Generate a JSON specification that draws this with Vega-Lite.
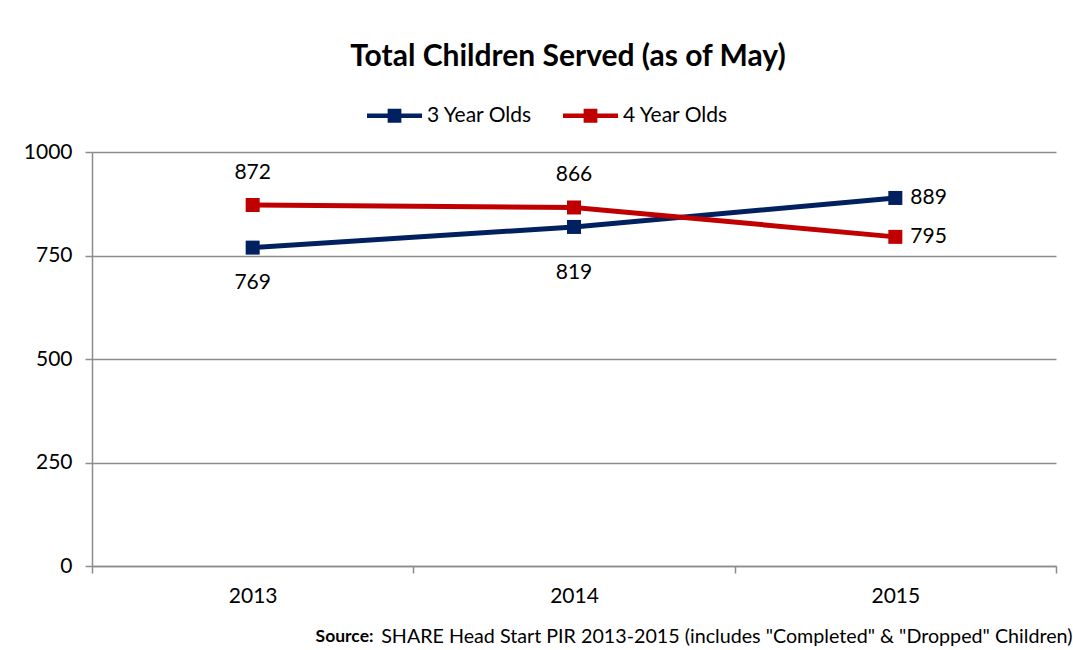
{
  "$schema": "https://vega.github.io/schema/vega-lite/v6.json",
  "width": 964,
  "height": 414,
  "autosize": {"type": "none"},
  "padding": {"left": 92, "top": 152, "right": 17, "bottom": 84},
  "background": "white",
  "config": {"view": {"stroke": null}, "font": "Lato"},
  "title": {
    "text": "Total Children Served (as of May)",
    "font": "Lato",
    "fontSize": 30,
    "fontWeight": "bold",
    "color": "black",
    "anchor": "middle",
    "offset": 16,
    "dx": -6
  },
  "data": {
    "values": [
      {"year": "2013", "series": "3 Year Olds", "value": 769},
      {"year": "2014", "series": "3 Year Olds", "value": 819},
      {"year": "2015", "series": "3 Year Olds", "value": 889},
      {"year": "2013", "series": "4 Year Olds", "value": 872},
      {"year": "2014", "series": "4 Year Olds", "value": 866},
      {"year": "2015", "series": "4 Year Olds", "value": 795}
    ]
  },
  "encoding": {
    "y": {
      "field": "value",
      "type": "quantitative",
      "scale": {"domain": [0, 1000], "nice": false, "zero": true},
      "axis": {
        "values": [0, 250, 500, 750, 1000],
        "format": "d",
        "title": null,
        "grid": true,
        "gridColor": "#8c8c8c",
        "gridWidth": 1.5,
        "domainColor": "#8c8c8c",
        "domainWidth": 1.5,
        "tickColor": "#8c8c8c",
        "tickWidth": 1.5,
        "tickSize": 7,
        "labelFont": "Lato",
        "labelFontSize": 21,
        "labelColor": "black",
        "labelPadding": 13
      }
    },
    "color": {
      "field": "series",
      "type": "nominal",
      "scale": {"domain": ["3 Year Olds", "4 Year Olds"], "range": ["#002060", "#C00000"]},
      "legend": {
        "orient": "none",
        "legendX": 275,
        "legendY": -64,
        "direction": "horizontal",
        "title": null,
        "symbolType": "M-1,-0.08H1V0.08H-1Z M-0.25,-0.255H0.25V0.255H-0.25Z",
        "symbolSize": 3025,
        "symbolStrokeWidth": 0,
        "symbolOpacity": 1,
        "labelFont": "Lato",
        "labelFontSize": 21,
        "labelColor": "black",
        "labelOffset": 5,
        "columnPadding": 30,
        "padding": 0
      }
    }
  },
  "resolve": {"axis": {"x": "independent"}},
  "layer": [
    {
      "mark": {"type": "line", "strokeWidth": 5},
      "encoding": {
        "x": {
          "field": "year",
          "type": "nominal",
          "scale": {"type": "band", "paddingInner": 0, "paddingOuter": 0},
          "axis": {
            "orient": "bottom",
            "labelAngle": 0,
            "tickBand": "extent",
            "tickSize": 7,
            "tickColor": "#8c8c8c",
            "tickWidth": 1.5,
            "domainColor": "#8c8c8c",
            "domainWidth": 1.5,
            "grid": false,
            "labelFont": "Lato",
            "labelFontSize": 21,
            "labelColor": "black",
            "labelPadding": 12,
            "title": "SHARE Head Start PIR 2013-2015 (includes \"Completed\" & \"Dropped\" Children)",
            "titleFont": "Lato",
            "titleFontSize": 19.7,
            "titleFontWeight": "normal",
            "titleColor": "black",
            "titleAlign": "right",
            "titleAnchor": "end",
            "titleX": 980,
            "titleY": 70,
            "titleBaseline": "middle"
          }
        }
      }
    },
    {
      "mark": {"type": "point", "shape": "square", "filled": true, "size": 196, "opacity": 1},
      "encoding": {
        "x": {"field": "year", "type": "nominal", "axis": null}
      }
    },
    {
      "transform": [{"filter": "datum.series == '4 Year Olds' && datum.year != '2015'"}],
      "mark": {"type": "text", "dy": -32, "fontSize": 21, "font": "Lato", "color": "black"},
      "encoding": {
        "x": {
          "field": "year",
          "type": "nominal",
          "axis": {
            "orient": "bottom",
            "labels": false,
            "ticks": false,
            "domain": false,
            "grid": false,
            "title": "Source:",
            "titleFont": "Lato",
            "titleFontSize": 17.5,
            "titleFontWeight": "bold",
            "titleColor": "black",
            "titleAlign": "right",
            "titleAnchor": "end",
            "titleX": 281,
            "titleY": 70,
            "titleBaseline": "middle"
          }
        },
        "text": {"field": "value", "type": "quantitative"},
        "color": {"value": "black"}
      }
    },
    {
      "transform": [{"filter": "datum.series == '3 Year Olds' && datum.year == '2013'"}],
      "mark": {"type": "text", "dy": 35, "fontSize": 21, "font": "Lato", "color": "black"},
      "encoding": {
        "x": {"field": "year", "type": "nominal", "axis": null},
        "text": {"field": "value", "type": "quantitative"},
        "color": {"value": "black"}
      }
    },
    {
      "transform": [{"filter": "datum.series == '3 Year Olds' && datum.year == '2014'"}],
      "mark": {"type": "text", "dy": 46, "fontSize": 21, "font": "Lato", "color": "black"},
      "encoding": {
        "x": {"field": "year", "type": "nominal", "axis": null},
        "text": {"field": "value", "type": "quantitative"},
        "color": {"value": "black"}
      }
    },
    {
      "transform": [{"filter": "datum.year == '2015'"}],
      "mark": {"type": "text", "dx": 15, "align": "left", "fontSize": 21, "font": "Lato", "color": "black"},
      "encoding": {
        "x": {"field": "year", "type": "nominal", "axis": null},
        "text": {"field": "value", "type": "quantitative"},
        "color": {"value": "black"}
      }
    }
  ]
}
